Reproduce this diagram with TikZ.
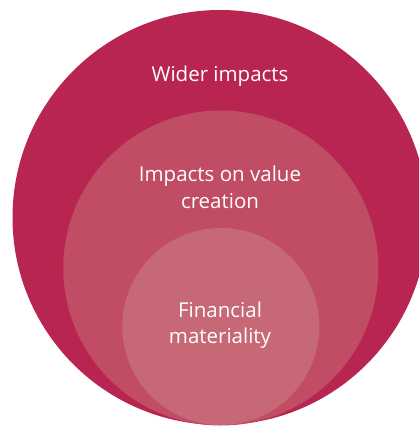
\documentclass[tikz,border=0pt]{standalone}
\usepackage{fontspec}
\setmainfont{Open Sans}
\definecolor{outerc}{RGB}{184,37,81}
\definecolor{midc}{RGB}{192,77,99}
\definecolor{innerc}{RGB}{198,104,117}
\begin{document}
\begin{tikzpicture}[x=1pt,y=-1pt,
  ring/.style={circle, inner sep=0pt, draw=none},
  lbl/.style={text=white, font=\fontsize{20.5}{26}\selectfont, align=center, inner sep=0pt}]
\useasboundingbox (0,0) rectangle (419,427);
\clip (0,0) rectangle (419,427);
\node[ring, fill=outerc, minimum size=415pt] (outer) at (220,217.5) {};
\node[ring, fill=midc, minimum size=315pt] (mid) at (220.8,268) {};
\node[ring, fill=innerc, minimum size=197pt] (inner) at (220.8,326.5) {};
\node[lbl, anchor=base] (t1) at (220,81.5) {Wider impacts};
\node[lbl, anchor=base] (t2) at (220,208) {Impacts on value\\creation};
\node[lbl, anchor=base] (t3) at (220,343) {Financial\\materiality};
\end{tikzpicture}
\end{document}
